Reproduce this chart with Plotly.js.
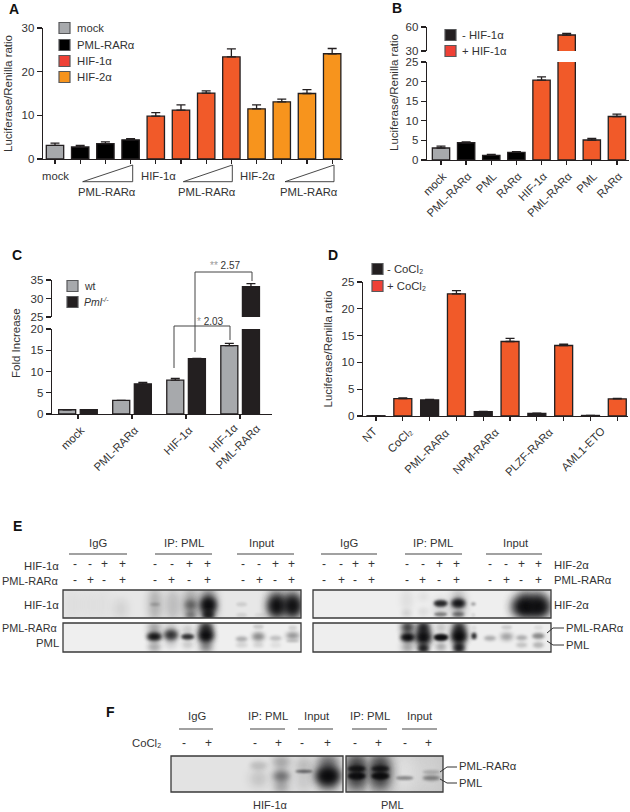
<!DOCTYPE html>
<html><head><meta charset="utf-8">
<script src="https://cdn.plot.ly/plotly-3.0.0.min.js"></script>
<style>html,body{margin:0;padding:0;background:#fff}#c{width:630px;height:812px}</style>
</head><body><div id="c"></div>
<script>
// ---------- Panel A ----------
const aCategories=["mock","PML-RARα low","PML-RARα mid","PML-RARα high","HIF-1α","HIF-1α + PML-RARα low","HIF-1α + PML-RARα mid","HIF-1α + PML-RARα high","HIF-2α","HIF-2α + PML-RARα low","HIF-2α + PML-RARα mid","HIF-2α + PML-RARα high"];
const aMockX=["mock"], aMock=[3.1], aMockErr=[0.55];
const aPmlX=aCategories.slice(1,4), aPml=[2.75,3.5,4.4], aPmlErr=[0.35,0.4,0.25];
const aHif1X=aCategories.slice(4,8), aHif1=[9.8,11.2,15.1,23.4], aHif1Err=[0.8,1.2,0.5,1.8];
const aHif2X=aCategories.slice(8,12), aHif2=[11.5,13.1,15.0,24.1], aHif2Err=[0.9,0.6,0.9,1.2];
// ---------- Panel B ----------
const bCategories=["mock","PML-RARα","PML","RARα","HIF-1α","PML-RARα ","PML ","RARα "];
const bTickText=["mock","PML-RARα","PML","RARα","HIF-1α","PML-RARα","PML","RARα"];
const bMockX=["mock"], bMock=[3.06], bMockErr=[0.5];
const bMinusX=bCategories.slice(1,4), bMinus=[4.4,1.2,1.95], bMinusErr=[0.2,0.25,0.15];
const bPlusX=bCategories.slice(4,8), bPlus=[20.4,50,5.1,11.1], bPlusErr=[0.8,2,0.4,0.6];
// ---------- Panel C ----------
const cCategories=["mock","PML-RARα","HIF-1α","HIF-1α + PML-RARα"];
const cTickText=["mock","PML-RARα","HIF-1α"," "];
const cWt=[1.0,3.2,7.95,16.1], cWtErr=[0.05,0.02,0.45,0.5];
const cNull=[1.0,7.1,13.0,33.2], cNullErr=[0.05,0.35,0.1,0.8];
// ---------- Panel D ----------
const dCategories=["NT","CoCl2","PML-RARα -","PML-RARα +","NPM-RARα -","NPM-RARα +","PLZF-RARα -","PLZF-RARα +","AML1-ETO -","AML1-ETO +"];
const dMinusX=["NT","PML-RARα -","NPM-RARα -","PLZF-RARα -","AML1-ETO -"], dMinus=[0.05,3.0,0.8,0.5,0.1], dMinusErr=[0.02,0.1,0.05,0.05,0.02];
const dPlusX=["CoCl2","PML-RARα +","NPM-RARα +","PLZF-RARα +","AML1-ETO +"], dPlus=[3.25,22.8,13.9,13.15,3.2], dPlusErr=[0.15,0.6,0.6,0.25,0.1];
// ---------- Blots: lane signs ----------
const eRow1=["-","-","+","+","-","-","+","+","-","-","+","+"];
const eRow2=["-","+","-","+","-","+","-","+","-","+","-","+"];
const fRow=["-","+","-","+","-","+","-","+","-","+"];

const W=630,H=812;
const FONT='"Liberation Sans", Arial, sans-serif', INK='#333333', AXIS='#231f20';
const GRAY='#a7a9ac', BLACK='#000000', DARK='#231f20', ORANGE='#f15a29', AMBER='#f7941d', RED='#ef4136';
const px=x=>x/W, py=y=>1-y/H;
const dom=(a,b)=>[a/W,b/W], vdom=(top,bot)=>[1-bot/H,1-top/H];

const annotations=[],shapes=[],images=[];
function T(x,y,text,opt={}){annotations.push({xref:'paper',yref:'paper',x:px(x),y:py(y),text,showarrow:false,
  xanchor:opt.a||'center',yanchor:'middle',textangle:opt.r||0,borderpad:0,borderwidth:0,
  font:{family:FONT,size:opt.s||11.3,color:opt.c||INK,weight:opt.w||'normal',style:opt.i?'italic':'normal'}});}
function L(x0,y0,x1,y1,c='#333333',w=1){shapes.push({type:'line',xref:'paper',yref:'paper',x0:px(x0),y0:py(y0),x1:px(x1),y1:py(y1),line:{color:c,width:w}});}
function P(pts,c='#333333',w=1){const d=pts.map((p,i)=>(i?'L':'M')+px(p[0])+','+py(p[1])).join(' ');
  shapes.push({type:'path',xref:'paper',yref:'paper',path:d,line:{color:c,width:w},fillcolor:'rgba(0,0,0,0)'});}
function B(x0,y0,x1,y1,fill,line='#58595b',w=1.2){shapes.push({type:'rect',xref:'paper',yref:'paper',x0:px(x0),y0:py(y0),x1:px(x1),y1:py(y1),fillcolor:fill,line:{color:line,width:w}});}

function bar(x,y,err,name,color,xa,ya,extra={}){return {type:'bar',x,y,name,xaxis:xa,yaxis:ya,showlegend:false,
  marker:{color,line:{color:DARK,width:1.3}},width:extra.width,offset:extra.offset,hoverinfo:'x+y',
  error_y:{type:'data',symmetric:false,array:err,arrayminus:err.map(()=>0),color:DARK,thickness:1.3,width:extra.cap||4.5}};}

const w1=0.69,cw=0.315;
const traces=[
 bar(aMockX,aMock,aMockErr,'mock',GRAY,'x','y',{width:w1}),
 bar(aPmlX,aPml,aPmlErr,'PML-RARα',BLACK,'x','y',{width:w1}),
 bar(aHif1X,aHif1,aHif1Err,'HIF-1α',ORANGE,'x','y',{width:w1}),
 bar(aHif2X,aHif2,aHif2Err,'HIF-2α',AMBER,'x','y',{width:w1}),
 bar(bMockX,bMock,bMockErr,'mock',GRAY,'x2','y2',{width:w1}),
 bar(bMinusX,bMinus,bMinusErr,'- HIF-1α',BLACK,'x2','y2',{width:w1}),
 bar(bPlusX,bPlus,bPlusErr,'+ HIF-1α',ORANGE,'x2','y2',{width:w1}),
 bar(bPlusX,bPlus,bPlusErr,'+ HIF-1α',ORANGE,'x2','y3',{width:w1}),
 bar(cCategories,cWt,cWtErr,'wt',GRAY,'x3','y4',{width:cw,offset:-0.357}),
 bar(cCategories,cNull,cNullErr,'Pml-/-',DARK,'x3','y4',{width:cw,offset:0.043}),
 bar(cCategories,cNull,cNullErr,'Pml-/-',DARK,'x3','y5',{width:cw,offset:0.043}),
 bar(dMinusX,dMinus,dMinusErr,'- CoCl2',DARK,'x4','y6',{width:0.67}),
 bar(dPlusX,dPlus,dPlusErr,'+ CoCl2',ORANGE,'x4','y6',{width:0.67})
];

const tickFont={family:FONT,size:11.5,color:INK};
const yax=(domain,anchor,range,tickvals,extra={})=>Object.assign({domain,anchor,range,tickmode:'array',tickvals,ticks:'outside',ticklen:5,tickwidth:1.3,
  tickcolor:AXIS,showline:true,linecolor:AXIS,linewidth:1.3,showgrid:false,zeroline:false,tickfont:tickFont,fixedrange:true},extra);
const xax=(domain,anchor,range,cats,extra={})=>Object.assign({domain,anchor,type:'category',categoryorder:'array',categoryarray:cats,range,ticks:'outside',ticklen:4,tickwidth:1.3,
  tickcolor:AXIS,showline:true,linecolor:AXIS,linewidth:1.3,showgrid:false,zeroline:false,tickfont:{family:FONT,size:11.3,color:INK},fixedrange:true,showticklabels:false},extra);

const yTitle=(t)=>({text:t,font:{family:FONT,size:11.5,color:INK},standoff:6});
const layout={width:W,height:H,margin:{l:0,r:0,t:0,b:0,pad:0},paper_bgcolor:'#fff',plot_bgcolor:'rgba(0,0,0,0)',barmode:'overlay',showlegend:false,font:{family:FONT},
 xaxis:xax(dom(43,343),'y',[-0.476,11.43],aCategories),
 yaxis:yax(vdom(28,159),'x',[0,30],[0,10,20,30],{title:yTitle('Luciferase/Renilla ratio')}),
 xaxis2:xax(dom(427,629),'y2',[-0.557,7.48],bCategories,{showticklabels:true,tickangle:-45,tickmode:'array',tickvals:bCategories,ticktext:bTickText,ticklabelshift:2}),
 yaxis2:yax(vdom(62,160),'x2',[0,25],[0,5,10,15,20,25]),
 yaxis3:yax(vdom(27,51),'x2',[30,60],[30,60]),
 xaxis3:xax(dom(52,272),'y4',[-0.48,3.59],cCategories,{showticklabels:true,tickangle:-45,tickmode:'array',tickvals:cCategories,ticktext:cTickText,ticklabelshift:3}),
 yaxis4:yax(vdom(329,414),'x3',[0,20],[0,5,10,15,20]),
 yaxis5:yax(vdom(280,317),'x3',[25,35],[25,30,35]),
 xaxis4:xax(dom(363,628),'y6',[-0.485,9.40],dCategories),
 yaxis6:yax(vdom(282,416),'x4',[0,25],[0,5,10,15,20,25],{title:yTitle('Luciferase/Renilla ratio')}),
 annotations,shapes,images};

// ---------- panel letters ----------
[['A',14,9],['B',397,8],['C',17,255],['D',333,255],['E',17,526],['F',110,712]].forEach(a=>T(a[1],a[2],a[0],{s:14,w:'bold',c:'#111'}));

// ---------- Panel A decorations ----------
[['mock',GRAY,28],['PML-RARα',BLACK,45],['HIF-1α',RED,61],['HIF-2α',AMBER,77]].forEach(l=>{B(59,l[2]-5.5,70,l[2]+5.5,l[1]);T(77,l[2],l[0],{a:'left'});});
T(55,176,'mock');T(158,176,'HIF-1α');T(257,176,'HIF-2α');
T(107,192,'PML-RARα');T(207,192,'PML-RARα');T(309,192,'PML-RARα');
[[82.7,132.7],[183.3,232.3],[285,334]].forEach(t=>P([[t[0],181.7],[t[1],165],[t[1],181.7],[t[0],181.7]],'#333',0.9));

// ---------- Panel B decorations ----------
T(394,93,'Luciferase/Renilla ratio',{r:-90,s:11.5});
[['- HIF-1α',DARK,35],['+ HIF-1α',RED,51]].forEach(l=>{B(445,l[2]-5.5,456,l[2]+5.5,l[1]);T(462,l[2],l[0],{a:'left'});});

// ---------- Panel C decorations ----------
T(16,343,'Fold Increase',{r:-90,s:11.5});
B(67,280.5,78,291.5,GRAY);T(84,286,'wt',{a:'left',s:10.5});
B(67,296.5,78,307.5,DARK);T(84,302,'Pml',{a:'left',s:10.5,i:true});T(101.5,299.5,'-/-',{a:'left',s:7,i:true});
P([[195,352],[195,272],[252,272],[252,281]],'#444',1);
P([[174,368],[174,326],[230,326],[230,340]],'#444',1);
T(225,265,'<span style="color:#999">**</span> 2.57',{s:10});T(211,321,'<span style="color:#999">*</span> 2.03',{s:10});
T(223.3,438.3,'HIF-1α',{r:-45});T(237.5,446.7,'PML-RARα',{r:-45});

// ---------- Panel D decorations ----------
[['- CoCl₂',DARK,269],['+ CoCl₂',RED,286]].forEach(l=>{B(372,l[2]-5.5,383,l[2]+5.5,l[1]);T(387,l[2],l[0],{a:'left'});});
[['NT',369,435],['CoCl₂',400,440],['PML-RARα',427,451],['NPM-RARα',476,451],['PLZF-RARα',529,452],['AML1-ETO',583,449]].forEach(l=>T(l[1],l[2],l[0],{r:-45}));

// ---------- Blot images ----------
function blot(x0,y0,x1,y1,originX,originY,bg,bands){
  const w=Math.round(x1-x0),h=Math.round(y1-y0),c=document.createElement('canvas');c.width=w;c.height=h;
  const g=c.getContext('2d');g.fillStyle=bg;g.fillRect(0,0,w,h);
  bands.forEach(b=>{const [bx,by,rx,ry,al]=b;
    g.filter='blur('+Math.max(1.3,Math.min(rx,ry)/3/1.4).toFixed(2)+'px)';
    g.fillStyle=al<0?'rgba(240,240,240,'+(-al)+')':'rgba(10,10,12,'+al+')';
    const n=al>=0.6?2:1;
    for(let i=0;i<n;i++){g.beginPath();g.ellipse(bx/3+originX-x0,by/3+originY-y0,rx*1.05/3,ry*1.25/3,0,0,Math.PI*2);g.fill();}});
  images.push({source:c.toDataURL('image/png'),xref:'paper',yref:'paper',x:px(x0),y:py(y0),sizex:(x1-x0)/W,sizey:(y1-y0)/H,sizing:'stretch',xanchor:'left',yanchor:'top',layer:'below'});
  shapes.push({type:'rect',xref:'paper',yref:'paper',x0:px(x0),y0:py(y0),x1:px(x1),y1:py(y1),line:{color:'#3a3a3a',width:1.3},fillcolor:'rgba(0,0,0,0)'});
}
blot(63,590,301,618,60,585,'#e7e7e7',[[35,60,22,40,.04],[85,60,22,40,.03],[130,60,22,40,.03],[183,72,18,25,.1],[285,58,17,42,.28],[285,58,15,4,.2],[338,60,18,40,.22],[392,60,20,42,.36],[392,60,17,12,.45],[392,90,15,8,.4],[445,60,20,44,.55],[445,60,19,16,.95],[445,90,15,10,.6],[545,58,15,5,.12],[545,90,15,5,.1],[600,90,15,4,.08],[650,60,22,42,.45],[650,62,20,22,.95],[698,60,22,42,.45],[698,62,20,22,.95]]);
blot(63,623,301,652,60,585,'#efefef',[[283,155,20,8,.85],[283,130,18,15,.4],[283,185,18,12,.3],[333,150,19,11,.6],[333,130,17,15,.2],[333,175,17,12,.14],[383,155,18,6,.62],[383,135,16,12,.16],[383,178,16,10,.16],[438,152,20,14,.95],[438,128,18,14,.6],[438,185,18,14,.5],[545,162,17,6,.3],[545,180,17,6,.12],[595,155,18,10,.45],[595,125,15,5,.16],[595,180,15,6,.12],[647,160,17,6,.22],[647,180,15,6,.08],[698,152,19,8,.42],[698,128,12,5,.12],[698,168,19,3,.2]]);
blot(313,590,551,618,310,585,'#eeeeee',[[290,45,15,25,.08],[290,85,14,8,.12],[340,35,15,12,.06],[340,80,14,10,.08],[392,55,19,7,.65],[392,88,19,5,.45],[392,70,17,25,.15],[445,55,19,9,.8],[445,88,17,6,.5],[445,60,18,38,.3],[490,57,7,4,.35],[490,90,5,4,.12],[645,65,32,22,1],[688,65,26,22,1],[645,35,20,20,.3],[685,35,20,20,.3]]);
blot(313,623,551,652,310,585,'#eeeeee',[[293,157,19,8,.95],[293,128,16,14,.6],[293,185,16,13,.4],[340,157,20,15,1],[340,128,16,14,.75],[340,190,15,10,.7],[393,157,20,7,.9],[393,128,15,12,.18],[393,185,15,10,.3],[447,155,20,14,1],[447,130,16,16,.7],[447,188,15,12,.75],[492,153,6,7,.7],[492,130,6,6,.1],[540,160,17,6,.3],[590,155,18,9,.35],[590,127,15,5,.15],[635,158,16,6,.3],[635,180,16,6,.2],[685,153,18,7,.45],[685,180,16,7,.25],[685,128,12,5,.08]]);
blot(171,756,343,792,168,752,'#e3e3e3',[[272,40,25,10,.16],[272,80,25,20,.16],[340,30,25,15,.3],[340,72,25,14,.55],[340,105,22,15,.3],[408,58,25,4,.55],[408,40,25,20,.2],[408,90,25,22,.14],[480,30,30,20,.55],[480,72,32,20,1],[480,105,30,14,.25]]);
blot(346,756,443,792,168,752,'#c6c6c6',[[600,65,8,60,-.7],[710,65,40,60,-.7],[790,65,30,60,-.25],[566,60,25,40,.6],[566,50,25,6,.65],[566,72,25,7,.8],[637,60,25,40,.6],[637,50,25,6,.6],[637,72,25,7,.85],[710,78,25,5,.4],[790,60,25,5,.2],[790,78,25,6,.45]]);

// ---------- Panel E text ----------
const eL1=[75,90,104,122,155,172,189,207,243,259,275,291], eR1=[324,341,355,371,407,423,439,456,490,506,521,538];
eRow1.forEach((s,i)=>{T(eL1[i],564,s,{s:12});T(eR1[i],564,s,{s:12});});
eRow2.forEach((s,i)=>{T(eL1[i],580,s,{s:12});T(eR1[i],580,s,{s:12});});
[['IgG',98,69,127],['IP: PML',184,155,212],['Input',262,237,294],['IgG',349,321,377],['IP: PML',433,405,462],['Input',516,486,542]].forEach(l=>{T(l[1],543,l[0]);L(l[2],554,l[3],554,'#444',1.1);});
T(59,566,'HIF-1α',{a:'right'});T(59,581,'PML-RARα',{a:'right',s:11});T(59,605,'HIF-1α',{a:'right'});T(56.5,628,'PML-RARα',{a:'right',s:10.8});T(59,643,'PML',{a:'right'});
T(554,565,'HIF-2α',{a:'left'});T(554,580,'PML-RARα',{a:'left'});T(554,605,'HIF-2α',{a:'left'});T(566,628,'PML-RARα',{a:'left'});T(566,645,'PML',{a:'left'});
P([[547,633],[553,628],[564,628]],'#333',1);P([[547,641],[553,645],[564,645]],'#333',1);

// ---------- Panel F text ----------
[['IgG',197,179,213],['IP: PML',268,250,285],['Input',317,298,333],['IP: PML',370,352,387],['Input',420,402,437]].forEach(l=>{T(l[1],716,l[0]);L(l[2],729,l[3],729,'#444',1.1);});
T(147,743,'CoCl₂');
const fX=[184,208,255,278,302,327,355,378,405,428];
fRow.forEach((s,i)=>T(fX[i],743,s,{s:12}));
T(270,805,'HIF-1α',{s:11});T(392,805,'PML',{s:11});T(459,766,'PML-RARα',{a:'left'});T(459,783,'PML',{a:'left'});
P([[440,772],[447,767],[457,767]],'#333',1);P([[440,779],[447,783],[457,783]],'#333',1);

Plotly.newPlot('c',traces,layout,{staticPlot:true,displayModeBar:false});
</script></body></html>
